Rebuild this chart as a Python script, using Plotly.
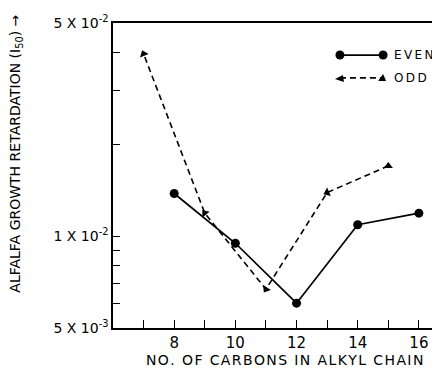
import math
import plotly.graph_objects as go

# Data
even_x = [8, 10, 12, 14, 16]
even_y = [0.0138, 0.00948, 0.00603, 0.0109, 0.0119]
# odd series listed from high to low carbon count so arrowheads point backwards
odd_x = [15, 13, 11, 9, 7]
odd_y = [0.0170, 0.0139, 0.0067, 0.0119, 0.0396]

x_tickvals = [7, 8, 9, 10, 11, 12, 13, 14, 15, 16]
x_ticktext = ["", "8", "", "10", "", "12", "", "14", "", "16"]
y_tickvals = [0.005, 0.006, 0.007, 0.008, 0.009, 0.01, 0.02, 0.03, 0.04, 0.05]
y_ticktext = ["5 X 10<sup>-3</sup>", "", "", "", "", "1 X 10<sup>-2</sup>",
              "", "", "", "5 X 10<sup>-2</sup>"]
legend_names = ["EVEN", "ODD"]
x_title = "NO. OF CARBONS IN ALKYL CHAIN"
y_title = "ALFALFA GROWTH RETARDATION (I<sub>50</sub>) →"

FONT = "DejaVu Sans"


def spaced(s, sep="\u200a"):
    return sep.join(list(s))


fig = go.Figure()
fig.add_trace(go.Scatter(
    x=even_x, y=even_y, mode="lines+markers", name=legend_names[0],
    line=dict(color="black", width=1.7),
    marker=dict(symbol="circle", size=9, color="black"),
    showlegend=False,
))
fig.add_trace(go.Scatter(
    x=odd_x, y=odd_y, mode="lines+markers", name=legend_names[1],
    line=dict(color="black", width=1.6, dash="6px,4px"),
    marker=dict(symbol="triangle-up", size=8, color="black", angleref="previous"),
    showlegend=False,
))
# first odd point has no previous point; give it an upright arrowhead
fig.add_trace(go.Scatter(
    x=odd_x[:1], y=odd_y[:1], mode="markers", showlegend=False,
    marker=dict(symbol="triangle-up", size=8, color="black"),
))

# Hand-drawn legend in paper coordinates (decoration, not data)
shapes = []
lx0, lx1 = 0.694, 0.826
ly = [0.895, 0.820]
shapes.append(dict(type="line", xref="paper", yref="paper", x0=lx0, x1=lx1, y0=ly[0], y1=ly[0],
                   line=dict(color="black", width=1.7)))
for xa in (lx0, lx1):
    shapes.append(dict(type="circle", xref="paper", yref="paper", xsizemode="pixel", ysizemode="pixel",
                       xanchor=xa, yanchor=ly[0], x0=-4.5, x1=4.5, y0=-4.5, y1=4.5,
                       fillcolor="black", line=dict(color="black", width=0)))
shapes.append(dict(type="line", xref="paper", yref="paper", x0=lx0, x1=lx1, y0=ly[1], y1=ly[1],
                   line=dict(color="black", width=1.6, dash="6px,4px")))
shapes.append(dict(type="path", xref="paper", yref="paper", xsizemode="pixel", ysizemode="pixel",
                   xanchor=lx0, yanchor=ly[1], path="M -5 -1 L 4 -4 L 3 3 Z",
                   fillcolor="black", line=dict(color="black", width=0)))
shapes.append(dict(type="path", xref="paper", yref="paper", xsizemode="pixel", ysizemode="pixel",
                   xanchor=lx1, yanchor=ly[1], path="M 0 4 L -5 -3 L 3 -3 Z",
                   fillcolor="black", line=dict(color="black", width=0)))

annotations = [
    dict(text=spaced(legend_names[0], "\u2009"),
         xref="paper", yref="paper", x=0.853, y=ly[0], xanchor="left", yanchor="middle",
         showarrow=False, font=dict(size=12, family=FONT)),
    dict(text=spaced(legend_names[1], "\u2009"),
         xref="paper", yref="paper", x=0.853, y=ly[1], xanchor="left", yanchor="middle",
         showarrow=False, font=dict(size=12, family=FONT)),
    dict(text=y_title,
         xref="paper", yref="paper", x=-0.295, y=0.57,
         xanchor="center", yanchor="middle", textangle=-90,
         showarrow=False, font=dict(size=14, family=FONT)),
    dict(text=spaced(x_title),
         xref="paper", yref="paper", x=0.5245, y=-0.105,
         xanchor="center", yanchor="middle",
         showarrow=False, font=dict(size=14, family=FONT)),
]

fig.update_layout(
    width=432, height=362,
    margin=dict(l=105, r=0, t=15, b=42),
    paper_bgcolor="white", plot_bgcolor="white",
    font=dict(family=FONT, color="black", size=13),
    showlegend=False,
    shapes=shapes,
    annotations=annotations,
    xaxis=dict(
        range=[6, 16.69], tickvals=x_tickvals, ticktext=x_ticktext,
        ticks="inside", ticklen=8, tickwidth=1.3, tickcolor="black",
        showline=True, linecolor="black", linewidth=1.5, mirror=True,
        showgrid=False, zeroline=False,
        tickfont=dict(size=15, family=FONT),
    ),
    yaxis=dict(
        type="log", range=[math.log10(0.005), math.log10(0.05)],
        tickvals=y_tickvals, ticktext=y_ticktext,
        ticks="inside", ticklen=7, tickwidth=1.3, tickcolor="black",
        showline=True, linecolor="black", linewidth=1.5,
        showgrid=False, zeroline=False,
        tickfont=dict(size=14, family=FONT),
    ),
)
fig.write_html("out.html")
